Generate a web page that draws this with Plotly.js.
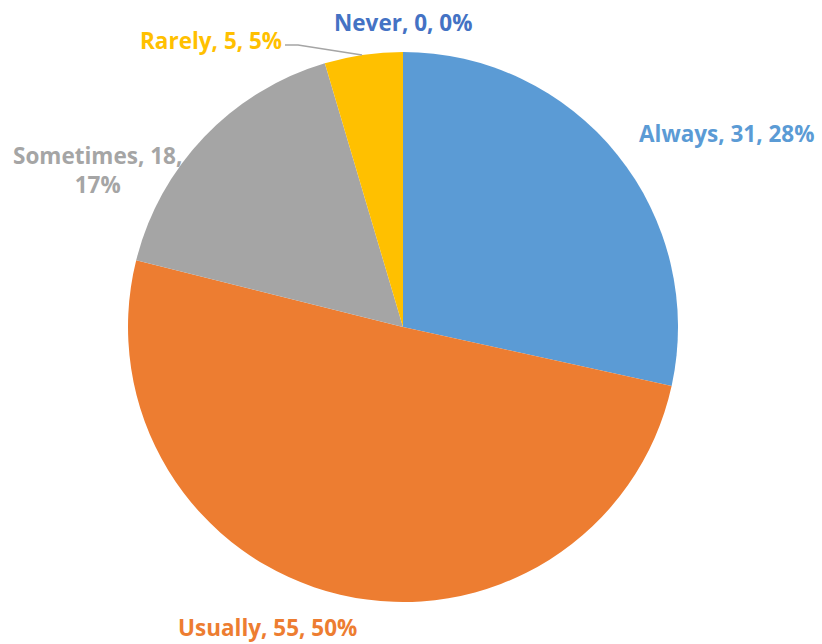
<!DOCTYPE html>
<html><head><meta charset="utf-8">
<script src="https://cdn.plot.ly/plotly-3.0.1.min.js"></script>
<style>html,body{margin:0;padding:0;background:#fff;}#chart{width:822px;height:644px;}</style>
</head><body><div id="chart"></div>
<script>
const categories = ["Always", "Usually", "Sometimes", "Rarely", "Never"];
const counts = [31, 55, 18, 5, 0];
const percentLabels = ["28%", "50%", "17%", "5%", "0%"];
const colors = ["#5B9BD5", "#ED7D31", "#A5A5A5", "#FFC000", "#4472C4"];

const labelPos = [
  {x: 726, y: 133},
  {x: 267, y: 627},
  {x: 97, y: 170, br: true},
  {x: 211, y: 40},
  {x: 403, y: 22}
];

const W = 822, H = 644;
const annotations = categories.map((c, i) => {
  const p = labelPos[i];
  const txt = p.br ? `${c}, ${counts[i]},<br>${percentLabels[i]}` : `${c}, ${counts[i]}, ${percentLabels[i]}`;
  return {
    text: txt, xref: 'paper', yref: 'paper',
    x: p.x / W, y: 1 - p.y / H, xanchor: 'center', yanchor: 'middle',
    showarrow: false, align: 'center',
    font: {family: '"Open Sans", sans-serif', size: 22.5, color: colors[i], weight: 'bold'}
  };
});

const data = [{
  type: 'pie',
  labels: categories,
  values: counts,
  marker: {colors: colors, line: {width: 0}},
  sort: false,
  direction: 'clockwise',
  rotation: 0,
  textinfo: 'none',
  hoverinfo: 'label+value+percent',
  showlegend: false,
  domain: {x: [(403 - 275) / W, (403 + 275) / W], y: [(644 - 602) / H, (644 - 52) / H]}
}];

const layout = {
  width: W, height: H,
  margin: {l: 0, r: 0, t: 0, b: 0},
  paper_bgcolor: '#fff',
  showlegend: false,
  annotations: annotations,
  shapes: [{
    type: 'path', xref: 'paper', yref: 'paper',
    path: `M ${285/W} ${1-45/H} L ${298/W} ${1-45/H} L ${362/W} ${1-55/H}`,
    line: {color: '#A5A5A5', width: 1.3}
  }]
};

Plotly.newPlot('chart', data, layout, {displayModeBar: false, staticPlot: true});
</script></body></html>
